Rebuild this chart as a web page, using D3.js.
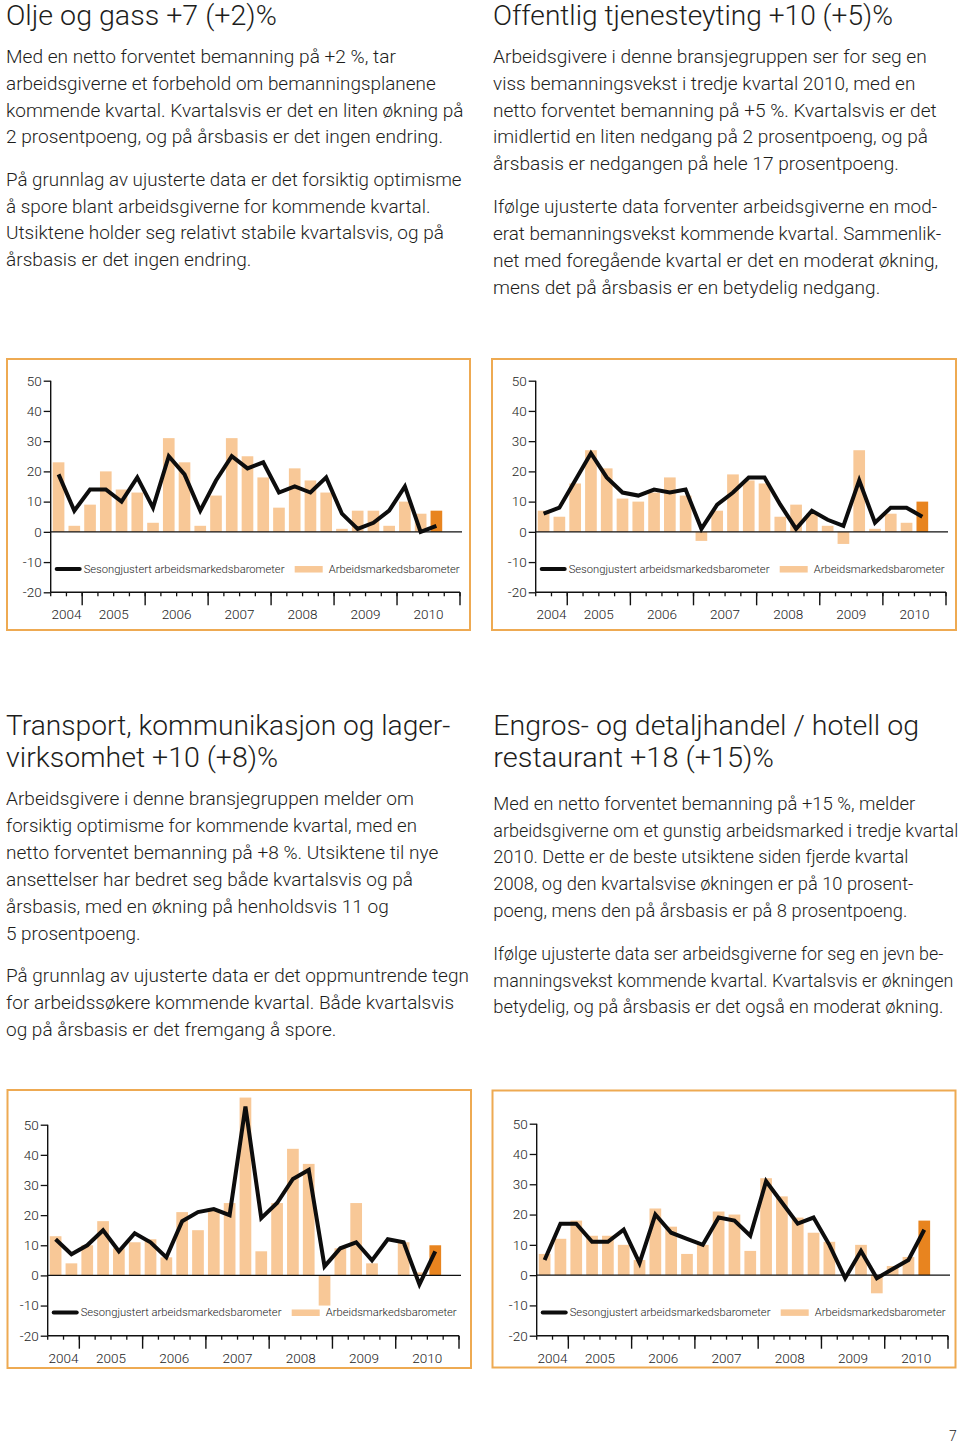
<!DOCTYPE html>
<html><head><meta charset="utf-8">
<script src="https://cdn.jsdelivr.net/npm/d3@7/dist/d3.min.js"></script>
<style>body{margin:0;background:#fff}svg{display:block}</style>
</head><body>
<svg id="page" width="960" height="1446"></svg>
<script>
// ---------- DATA ----------
const quarters = ["2004-Q3","2004-Q4",
  "2005-Q1","2005-Q2","2005-Q3","2005-Q4",
  "2006-Q1","2006-Q2","2006-Q3","2006-Q4",
  "2007-Q1","2007-Q2","2007-Q3","2007-Q4",
  "2008-Q1","2008-Q2","2008-Q3","2008-Q4",
  "2009-Q1","2009-Q2","2009-Q3","2009-Q4",
  "2010-Q1","2010-Q2","2010-Q3","2010-Q4"];
const years = ["2004","2005","2006","2007","2008","2009","2010"];
const yTicks = [50,40,30,20,10,0,-10,-20];

const oljeBars = [23,2,9,20,14,13,3,31,23,2,12,31,25,18,8,21,17,13,1,7,7,2,10,6,7];
const oljeLine = [19,7,14,14,10,18,8,25,19,7,17,25,21,23,13,15,13,18,6,1,3,7,15,0,2];

const offentligBars = [7,5,16,27,21,11,10,13,18,12,-3,7,19,17,16,5,9,6,2,-4,27,1,6,3,10];
const offentligLine = [6,8,17,26,18,13,12,14,13,14,1,9,13,18,18,9,1,7,4,2,17,3,8,8,5];

const transportBars = [13,4,10,18,9,11,12,6,21,15,22,24,59,8,24,42,37,-10,9,24,4,0,11,1,10];
const transportLine = [12,7,10,15,8,14,11,6,18,21,22,20,56,19,24,32,35,3,9,11,5,12,11,-3,8];

const handelBars = [7,12,18,13,13,10,5,22,16,7,10,21,20,8,32,26,19,14,11,0,10,-6,3,6,18];
const handelLine = [5,17,17,11,11,15,4,20,14,12,10,19,18,13,31,24,17,19,10,-1,8,-1,2,5,15];

const legendLineLabel = "Sesongjustert arbeidsmarkedsbarometer";
const legendBarLabel = "Arbeidsmarkedsbarometer";

const headings = [
  ["Olje og gass +7 (+2)%"],
  ["Offentlig tjenesteyting +10 (+5)%"],
  ["Transport, kommunikasjon og lager-","virksomhet +10 (+8)%"],
  ["Engros- og detaljhandel / hotell og","restaurant +18 (+15)%"]
];
const bodies = [
  [["Med en netto forventet bemanning på +2 %, tar",
    "arbeidsgiverne et forbehold om bemanningsplanene",
    "kommende kvartal. Kvartalsvis er det en liten økning på",
    "2 prosentpoeng, og på årsbasis er det ingen endring."],
   ["På grunnlag av ujusterte data er det forsiktig optimisme",
    "å spore blant arbeidsgiverne for kommende kvartal.",
    "Utsiktene holder seg relativt stabile kvartalsvis, og på",
    "årsbasis er det ingen endring."]],
  [["Arbeidsgivere i denne bransjegruppen ser for seg en",
    "viss bemanningsvekst i tredje kvartal 2010, med en",
    "netto forventet bemanning på +5 %. Kvartalsvis er det",
    "imidlertid en liten nedgang på 2 prosentpoeng, og på",
    "årsbasis er nedgangen på hele 17 prosentpoeng."],
   ["Ifølge ujusterte data forventer arbeidsgiverne en mod-",
    "erat bemanningsvekst kommende kvartal. Sammenlik-",
    "net med foregående kvartal er det en moderat økning,",
    "mens det på årsbasis er en betydelig nedgang."]],
  [["Arbeidsgivere i denne bransjegruppen melder om",
    "forsiktig optimisme for kommende kvartal, med en",
    "netto forventet bemanning på +8 %. Utsiktene til nye",
    "ansettelser har bedret seg både kvartalsvis og på",
    "årsbasis, med en økning på henholdsvis 11 og",
    "5 prosentpoeng."],
   ["På grunnlag av ujusterte data er det oppmuntrende tegn",
    "for arbeidssøkere kommende kvartal. Både kvartalsvis",
    "og på årsbasis er det fremgang å spore."]],
  [["Med en netto forventet bemanning på +15 %, melder",
    "arbeidsgiverne om et gunstig arbeidsmarked i tredje kvartal",
    "2010. Dette er de beste utsiktene siden fjerde kvartal",
    "2008, og den kvartalsvise økningen er på 10 prosent-",
    "poeng, mens den på årsbasis er på 8 prosentpoeng."],
   ["Ifølge ujusterte data ser arbeidsgiverne for seg en jevn be-",
    "manningsvekst kommende kvartal. Kvartalsvis er økningen",
    "betydelig, og på årsbasis er det også en moderat økning."]]
];
const pageNumber = "7";

// ---------- LAYOUT ----------
const FONT = "Roboto, 'Liberation Sans', Arial, sans-serif";
const METRIC = "'Liberation Sans', Arial, sans-serif";
const TEXT = "#1d1d1b";
const svg = d3.select("#page");

function measure(txt, size, weight, fam){
  const t = svg.append("text").attr("font-family",fam||FONT).attr("font-size",size)
    .attr("font-weight",weight).text(txt);
  const w = t.node().getComputedTextLength(); t.remove(); return w;
}
const bodyMetric = 100*394/measure(bodies[0][0][0],100,400,METRIC);
const headMetric = 100*271/measure(headings[0][0],100,400,METRIC);
const legSize = 100*201/measure(legendLineLabel,100,300);
const tickSize = 100*30/measure("2004",100,300);

function fittedText(x, y, txt, metricSize, fixedW){
  const w = fixedW || measure(txt, metricSize, 400, METRIC);
  svg.append("text").attr("x",x).attr("y",y).attr("font-family",FONT)
    .attr("font-weight",300).attr("font-size",metricSize).attr("fill",TEXT)
    .attr("textLength",w).attr("lengthAdjust","spacingAndGlyphs").text(txt);
}

// line widths measured on the reference for the last block (layout, not data)
const block4Widths = [[422,465,415,420,414],[450,460,450]];
const textBlocks = [
  {x:6, hs:1.0, bs:0.99, head:[25], paras:[[63,90,117,143],[186,213,239,266]]},
  {x:493, hs:1.01, bs:0.99, head:[25], paras:[[63,90,117,143,170],[213,240,267,294]]},
  {x:6, hs:1.022, bs:0.99, head:[735,767], paras:[[805,832,859,886,913,940],[982,1009,1036]]},
  {x:493.3, hs:1.03, bs:0.955, head:[735,767], paras:[[810,837,863,890,917],[960,987,1013]], widths:block4Widths}
];
textBlocks.forEach((b,i)=>{
  headings[i].forEach((h,j)=>fittedText(b.x, b.head[j], h, headMetric*b.hs));
  bodies[i].forEach((p,pi)=>p.forEach((l,li)=>fittedText(b.x, b.paras[pi][li], l, bodyMetric*b.bs,
    b.widths ? b.widths[pi][li] : null)));
});
svg.append("text").attr("x",953).attr("y",1441).attr("text-anchor","middle")
  .attr("font-family",FONT).attr("font-weight",300).attr("font-size",14).attr("fill",TEXT).text(pageNumber);

const charts = [
  {bars:oljeBars, line:oljeLine, box:[7,359,463,271], ax:50.7, ex:460, yTop:380.7, yBot:592.3},
  {bars:offentligBars, line:offentligLine, box:[492,359,464,271], ax:535.7, ex:946, yTop:380.7, yBot:592.3},
  {bars:transportBars, line:transportLine, box:[7.5,1090,463.5,278], ax:47.7, ex:459, yTop:1124.7, yBot:1335.7},
  {bars:handelBars, line:handelLine, box:[492.5,1090.5,463,277], ax:536.7, ex:948, yTop:1123.7, yBot:1335.7}
];
const LIGHT = "#f8c897", DARK = "#e8841f", BORDER = "#eeaa52";
const fmt = d => String(d); // hyphen-minus as in the reference

charts.forEach(c=>{
  const g = svg.append("g");
  g.append("rect").attr("x",c.box[0]).attr("y",c.box[1]).attr("width",c.box[2]).attr("height",c.box[3])
    .attr("fill","#fff").attr("stroke",BORDER).attr("stroke-width",2);
  const x = d3.scaleBand().domain(quarters).range([c.ax,c.ex]).paddingInner(0.26).paddingOuter(0.13);
  const y = d3.scaleLinear().domain([-20,50]).range([c.yBot,c.yTop]);
  const step = x.step();
  const bstart = q => c.ax + quarters.indexOf(q)*step;

  g.selectAll("rect.bar").data(c.bars).join("rect").attr("class","bar")
    .attr("x",(d,i)=>x(quarters[i])).attr("width",x.bandwidth())
    .attr("y",d=>y(Math.max(0,d))).attr("height",d=>Math.abs(y(d)-y(0)))
    .attr("fill",(d,i)=>i===c.bars.length-1?DARK:LIGHT);

  g.append("line").attr("x1",c.ax).attr("x2",c.ex+2).attr("y1",y(0)).attr("y2",y(0))
    .attr("stroke","#111").attr("stroke-width",1.3);

  const yAxis = d3.axisLeft(y).tickValues(yTicks).tickSize(7).tickPadding(2).tickFormat(fmt);
  const ya = g.append("g").attr("transform",`translate(${c.ax},0)`).call(yAxis);
  ya.select(".domain").attr("stroke","#111").attr("stroke-width",1.4).attr("d",`M0,${y(50)}V${y(-20)}`);
  ya.selectAll(".tick line").attr("stroke","#111").attr("stroke-width",1.3);
  ya.selectAll(".tick text").attr("font-family",FONT).attr("font-weight",300)
    .attr("font-size",tickSize).attr("fill","#222");

  const by = y(-20);
  g.append("line").attr("x1",c.ax).attr("x2",c.ex).attr("y1",by).attr("y2",by)
    .attr("stroke","#111").attr("stroke-width",1.4);
  const bounds = quarters.map(bstart).concat([c.ex]);
  const majors = years.slice(1).map(yr=>bstart(yr+"-Q1")).concat([c.ex]);
  g.selectAll("line.minor").data(bounds).join("line").attr("class","minor")
    .attr("x1",d=>d).attr("x2",d=>d).attr("y1",by).attr("y2",by+4)
    .attr("stroke","#111").attr("stroke-width",1.3);
  g.selectAll("line.major").data(majors).join("line").attr("class","major")
    .attr("x1",d=>d).attr("x2",d=>d).attr("y1",by).attr("y2",by+13)
    .attr("stroke","#111").attr("stroke-width",1.4);
  g.selectAll("text.year").data(years).join("text").attr("class","year")
    .attr("x",yr=>{const qs=quarters.filter(q=>q.startsWith(yr));
      return (bstart(qs[0])+bstart(qs[qs.length-1])+step)/2;})
    .attr("y",by+27).attr("text-anchor","middle").attr("font-family",FONT).attr("font-weight",300)
    .attr("font-size",tickSize).attr("fill","#222").text(d=>d);

  const lineGen = d3.line().x((d,i)=>x(quarters[i])+x.bandwidth()/2).y(d=>y(d));
  g.append("path").datum(c.line).attr("d",lineGen).attr("fill","none")
    .attr("stroke","#0d0d0d").attr("stroke-width",4).attr("stroke-linejoin","miter").attr("stroke-miterlimit",6);

  const ly = y(-12.3);
  g.append("line").attr("x1",c.ax+6).attr("x2",c.ax+29).attr("y1",ly).attr("y2",ly)
    .attr("stroke","#0d0d0d").attr("stroke-width",4).attr("stroke-linecap","round");
  g.append("text").attr("x",c.ax+33).attr("y",ly+4).attr("font-family",FONT).attr("font-weight",300)
    .attr("font-size",legSize).attr("fill","#222").text(legendLineLabel);
  g.append("rect").attr("x",c.ax+244).attr("y",ly-3).attr("width",28).attr("height",6.5).attr("fill",LIGHT);
  g.append("text").attr("x",c.ax+278).attr("y",ly+4).attr("font-family",FONT).attr("font-weight",300)
    .attr("font-size",legSize).attr("fill","#222").text(legendBarLabel);
});
</script>
</body></html>
